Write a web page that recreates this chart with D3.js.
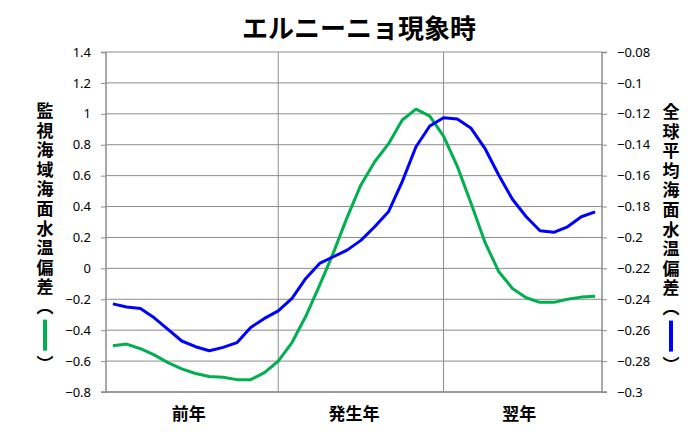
<!DOCTYPE html>
<html>
<head>
<meta charset="utf-8">
<script src="https://cdn.jsdelivr.net/npm/d3@7"></script>
<style>
  body { margin: 0; background: #fff; }
  svg { display: block; }
</style>
</head>
<body>
<div id="chart"></div>
<script>
// 監視海域海面水温偏差（左軸）
const sstLocal = [-0.50, -0.49, -0.52, -0.56, -0.61, -0.65, -0.68, -0.70, -0.705, -0.72, -0.72, -0.675,
                  -0.60, -0.48, -0.31, -0.11, 0.10, 0.33, 0.54, 0.69, 0.805, 0.96, 1.03, 0.985,
                  0.856, 0.66, 0.42, 0.17, -0.02, -0.13, -0.19, -0.22, -0.22, -0.20, -0.186, -0.18];
// 全球平均海面水温偏差（右軸）
const sstGlobal = [-0.243, -0.245, -0.246, -0.252, -0.2595, -0.267, -0.2707, -0.2733, -0.2711, -0.2681, -0.2582, -0.2524,
                   -0.2475, -0.2394, -0.2265, -0.2168, -0.2125, -0.2082, -0.2019, -0.1931, -0.1834, -0.1639, -0.1413, -0.1279,
                   -0.1225, -0.1234, -0.1294, -0.1423, -0.1596, -0.1753, -0.1866, -0.1957, -0.1967, -0.1931, -0.1866, -0.1834];
const periods = ['前年', '発生年', '翌年'];
const leftTicks = [1.4, 1.2, 1, 0.8, 0.6, 0.4, 0.2, 0, -0.2, -0.4, -0.6, -0.8];
const rightTicks = [-0.08, -0.1, -0.12, -0.14, -0.16, -0.18, -0.2, -0.22, -0.24, -0.26, -0.28, -0.3];

const width = 692, height = 443;
const margin = { top: 52, right: 90, bottom: 51, left: 106 };
const innerW = width - margin.left - margin.right;
const innerH = height - margin.top - margin.bottom;

const svg = d3.select('#chart').append('svg')
  .attr('width', width)
  .attr('height', height);

const g = svg.append('g').attr('transform', `translate(${margin.left},${margin.top})`);

const x = d3.scalePoint()
  .domain(d3.range(sstLocal.length))
  .range([0, innerW])
  .padding(0.5);
const yL = d3.scaleLinear().domain([-0.8, 1.4]).range([innerH, 0]);
const yR = d3.scaleLinear().domain([-0.3, -0.08]).range([innerH, 0]);

const tickFont = '"Noto Sans", sans-serif';
const jpFont = '"Noto Sans CJK JP", sans-serif';

// 横グリッド
g.append('g')
  .selectAll('line')
  .data(leftTicks)
  .join('line')
  .attr('x1', 0).attr('x2', innerW)
  .attr('y1', d => yL(d)).attr('y2', d => yL(d))
  .attr('stroke', '#8c8c8c')
  .attr('stroke-width', 1);

// 年の区切り
g.append('g')
  .selectAll('line')
  .data([12, 24])
  .join('line')
  .attr('x1', d => x(d)).attr('x2', d => x(d))
  .attr('y1', 0).attr('y2', innerH)
  .attr('stroke', '#8c8c8c')
  .attr('stroke-width', 1);

// 左軸
const axL = g.append('g')
  .call(d3.axisLeft(yL).tickValues(leftTicks).tickSize(5).tickPadding(10).tickFormat(d3.format('')));
// 右軸
const axR = g.append('g')
  .attr('transform', `translate(${innerW},0)`)
  .call(d3.axisRight(yR).tickValues(rightTicks).tickSize(5).tickPadding(10).tickFormat(d3.format('')));
[axL, axR].forEach(ax => {
  ax.select('.domain').attr('stroke', '#8c8c8c').attr('stroke-width', 1.5);
  ax.selectAll('.tick line').attr('stroke', '#8c8c8c');
  ax.selectAll('text')
    .attr('font-family', tickFont)
    .attr('font-size', 13)
    .attr('fill', '#000');
});
axL.select('.domain').attr('d', `M-5,0.5H0V${innerH}H-5`);
axR.select('.domain').attr('d', `M5,0.5H0V${innerH}H5`);

// 下の軸線
g.append('line')
  .attr('x1', 0).attr('x2', innerW)
  .attr('y1', innerH).attr('y2', innerH)
  .attr('stroke', '#8c8c8c')
  .attr('stroke-width', 1.5);

// 年ラベル
g.append('g')
  .selectAll('text')
  .data(periods)
  .join('text')
  .attr('x', (d, i) => (x(i * 12) + x(i * 12 + 11)) / 2)
  .attr('y', innerH + 28)
  .attr('text-anchor', 'middle')
  .attr('font-family', jpFont)
  .attr('font-weight', 'bold')
  .attr('font-size', 17)
  .text(d => d);

// 線
const lineL = d3.line().x((d, i) => x(i)).y(d => yL(d));
const lineR = d3.line().x((d, i) => x(i)).y(d => yR(d));

g.append('path')
  .datum(sstLocal)
  .attr('d', lineL)
  .attr('fill', 'none')
  .attr('stroke', '#00b050')
  .attr('stroke-width', 3)
  .attr('stroke-linejoin', 'round');

g.append('path')
  .datum(sstGlobal)
  .attr('d', lineR)
  .attr('fill', 'none')
  .attr('stroke', '#0000ff')
  .attr('stroke-width', 3)
  .attr('stroke-linejoin', 'round');

// タイトル
svg.append('text')
  .attr('x', 359)
  .attr('y', 38)
  .attr('text-anchor', 'middle')
  .attr('font-family', jpFont)
  .attr('font-weight', 'bold')
  .attr('font-size', 26)
  .text('エルニーニョ現象時');

// 縦書きの軸タイトル
function verticalTitle(cx, top, label, color) {
  const t = svg.append('g')
    .attr('font-family', jpFont)
    .attr('font-weight', 'bold')
    .attr('font-size', 17);
  const pitch = 19.6;
  t.append('text')
    .attr('x', cx)
    .attr('y', top)
    .attr('writing-mode', 'vertical-rl')
    .attr('letter-spacing', pitch - 17)
    .text(label + '︵');
  const yEnd = top + (label.length + 1) * pitch;
  t.append('rect')
    .attr('x', cx - 2)
    .attr('y', yEnd + 2)
    .attr('width', 4)
    .attr('height', 31)
    .attr('fill', color);
  t.append('text')
    .attr('x', cx)
    .attr('y', yEnd + 37)
    .attr('writing-mode', 'vertical-rl')
    .text('︶');
}
verticalTitle(45, 102, '監視海域海面水温偏差', '#00b050');
verticalTitle(671, 103, '全球平均海面水温偏差', '#0000ff');
</script>
</body>
</html>
